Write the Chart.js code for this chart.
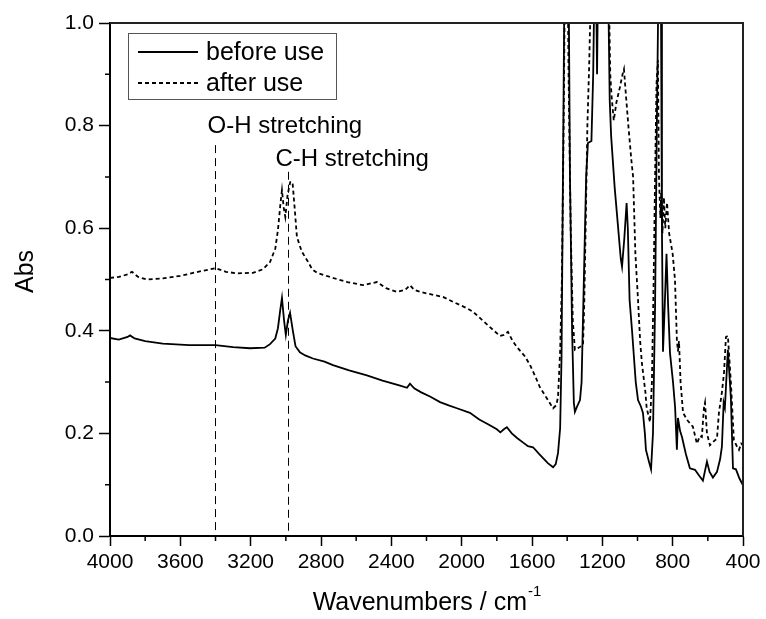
<!DOCTYPE html>
<html lang="en">
<head>
  <meta charset="UTF-8" />
  <title>IR spectra before / after use</title>
  <script src="https://cdn.jsdelivr.net/npm/chart.js"></script>
  <style>
    body { margin: 0; background: #fff; }
    canvas { display: block; }
  </style>
</head>
<body>
  <canvas id="irChart" width="766" height="619"></canvas>

  <script>
    // spectrum "before use" (wavenumber, absorbance)
    const wnBefore = [4000, 3950, 3900, 3886, 3860, 3800, 3700, 3550, 3400, 3300, 3204, 3120, 3090, 3060, 3045, 3032, 3022, 3010, 3000, 2988,
      2976, 2960, 2945, 2920, 2890, 2846, 2780, 2732, 2640, 2539, 2450, 2350, 2311, 2294, 2270, 2230, 2180, 2123, 2070, 2027,
      1953, 1900, 1850, 1800, 1780, 1760, 1743, 1715, 1685, 1650, 1623, 1594, 1560, 1537, 1510, 1480, 1465, 1452, 1440, 1432,
      1424, 1415, 1405, 1392, 1384, 1372, 1362, 1356, 1344, 1327, 1318, 1305, 1292, 1282, 1262, 1252, 1244, 1236, 1230, 1224,
      1210, 1180, 1166, 1158, 1150, 1130, 1110, 1095, 1088, 1075, 1062, 1055, 1045, 1031, 1010, 997, 980, 969, 958, 952,
      935, 923, 912, 900, 890, 880, 872, 866, 861, 855, 845, 835, 826, 815, 798, 786, 776, 770, 758, 747,
      725, 702, 673, 650, 628, 605, 590, 571, 548, 530, 520, 510, 503, 486, 469, 457, 440, 420, 400];
    const absBefore = [0.386, 0.383, 0.388, 0.391, 0.385, 0.380, 0.375, 0.372, 0.372, 0.368, 0.366, 0.367, 0.374, 0.385, 0.405, 0.44, 0.464, 0.42, 0.392, 0.42,
      0.435, 0.40, 0.37, 0.358, 0.352, 0.346, 0.340, 0.333, 0.323, 0.313, 0.303, 0.293, 0.289, 0.297, 0.288, 0.280, 0.272, 0.261, 0.254, 0.249,
      0.240, 0.227, 0.218, 0.208, 0.202, 0.208, 0.212, 0.200, 0.191, 0.182, 0.175, 0.173, 0.160, 0.152, 0.142, 0.134, 0.140, 0.162, 0.21, 0.35,
      0.70, 1.1, 1.2, 1.1, 0.70, 0.40, 0.26, 0.242, 0.252, 0.265, 0.30, 0.50, 0.70, 0.766, 0.770, 0.90, 1.1, 1.1, 0.90, 1.1,
      1.2, 1.2, 1.05, 0.85, 0.78, 0.68, 0.60, 0.54, 0.525, 0.58, 0.649, 0.60, 0.46, 0.40, 0.30, 0.265, 0.252, 0.240, 0.20, 0.168,
      0.145, 0.130, 0.20, 0.45, 0.80, 1.1, 1.2, 1.0, 0.60, 0.359, 0.45, 0.55, 0.45, 0.356, 0.30, 0.25, 0.168, 0.23, 0.205, 0.193,
      0.160, 0.132, 0.129, 0.118, 0.108, 0.145, 0.125, 0.114, 0.125, 0.150, 0.174, 0.26, 0.25, 0.363, 0.27, 0.132, 0.130, 0.112, 0.099];

    // spectrum "after use"
    const wnAfter = [4000, 3950, 3900, 3875, 3840, 3790, 3700, 3600, 3500, 3400, 3340, 3278, 3187, 3130, 3090, 3060, 3045, 3030, 3022, 3012,
      3003, 2990, 2975, 2962, 2950, 2937, 2910, 2880, 2850, 2823, 2732, 2650, 2561, 2482, 2430, 2368, 2320, 2294, 2270, 2237,
      2160, 2106, 2040, 1970, 1935, 1880, 1822, 1782, 1760, 1737, 1710, 1685, 1640, 1611, 1580, 1555, 1515, 1480, 1462, 1452,
      1440, 1430, 1420, 1410, 1400, 1392, 1380, 1368, 1356, 1330, 1310, 1303, 1295, 1285, 1275, 1266, 1255, 1200, 1165, 1155,
      1148, 1135, 1120, 1100, 1085, 1077, 1066, 1052, 1035, 1025, 1012, 997, 985, 975, 955, 948, 929, 918, 908, 900,
      892, 884, 878, 870, 865, 858, 850, 842, 832, 820, 800, 787, 776, 770, 764, 755, 741, 715, 685, 662,
      645, 634, 622, 616, 605, 588, 565, 548, 537, 520, 508, 497, 486, 469, 452, 435, 423, 410, 400];
    const absAfter = [0.503, 0.505, 0.510, 0.515, 0.505, 0.500, 0.502, 0.507, 0.515, 0.522, 0.515, 0.512, 0.513, 0.520, 0.534, 0.560, 0.596, 0.650, 0.674, 0.640,
      0.622, 0.665, 0.690, 0.690, 0.640, 0.583, 0.555, 0.538, 0.520, 0.513, 0.503, 0.495, 0.489, 0.495, 0.483, 0.476, 0.480, 0.489, 0.480, 0.476,
      0.470, 0.466, 0.455, 0.444, 0.437, 0.420, 0.402, 0.390, 0.392, 0.398, 0.380, 0.368, 0.350, 0.333, 0.310, 0.290, 0.268, 0.249, 0.255, 0.271,
      0.36, 0.50, 0.80, 1.2, 1.2, 0.90, 0.60, 0.42, 0.363, 0.368, 0.372, 0.45, 0.60, 0.80, 0.915, 1.05, 1.2, 1.2, 1.1, 0.90,
      0.86, 0.81, 0.845, 0.875, 0.90, 0.91, 0.86, 0.80, 0.733, 0.70, 0.55, 0.46, 0.38, 0.337, 0.28, 0.25, 0.222, 0.30, 0.50, 0.70,
      0.88, 0.928, 0.70, 0.62, 0.67, 0.59, 0.66, 0.60, 0.65, 0.59, 0.55, 0.50, 0.382, 0.36, 0.38, 0.30, 0.240, 0.225, 0.213, 0.180,
      0.195, 0.193, 0.25, 0.26, 0.20, 0.177, 0.185, 0.190, 0.240, 0.28, 0.318, 0.388, 0.390, 0.300, 0.187, 0.175, 0.168, 0.180, 0.177];

    // band markers: position, top of the dashed line (in Abs), label
    const bandWn = [3400, 2990];
    const bandTop = [0.762, 0.71];
    const bandLabels = ['O-H stretching', 'C-H stretching'];
    const bandLabelY = [0.798, 0.734];

    const xTicks = [4000, 3600, 3200, 2800, 2400, 2000, 1600, 1200, 800, 400];

    const FONT = '"Liberation Sans", Arial, sans-serif';

    function toPoints(xs, ys) {
      return xs.map((x, i) => ({ x: x, y: ys[i] }));
    }

    // frame, minor ticks, legend box, band markers and axis titles
    const extras = {
      id: 'extras',
      afterDraw(chart) {
        const ctx = chart.ctx;
        const xs = chart.scales.x, ys = chart.scales.y;
        const a = chart.chartArea;
        ctx.save();

        // top + right frame
        ctx.strokeStyle = '#222';
        ctx.lineWidth = 2;
        ctx.beginPath();
        ctx.moveTo(a.left, a.top);
        ctx.lineTo(a.right, a.top);
        ctx.lineTo(a.right, a.bottom);
        ctx.stroke();

        // minor ticks
        ctx.lineWidth = 1.5;
        ctx.strokeStyle = '#000';
        ctx.beginPath();
        for (let v = 600; v < 4000; v += 400) {
          const px = xs.getPixelForValue(v);
          ctx.moveTo(px, a.bottom);
          ctx.lineTo(px, a.bottom + 5);
        }
        for (let v = 0.1; v < 1; v += 0.2) {
          const py = ys.getPixelForValue(v);
          ctx.moveTo(a.left, py);
          ctx.lineTo(a.left - 5, py);
        }
        ctx.stroke();

        // legend
        ctx.lineWidth = 1;
        ctx.strokeStyle = '#555';
        ctx.strokeRect(128.5, 33.5, 208, 66);
        ctx.font = '25px ' + FONT;
        ctx.textBaseline = 'middle';
        ctx.textAlign = 'left';
        chart.data.datasets.forEach((ds, i) => {
          const y = 52 + i * 31;
          ctx.strokeStyle = '#000';
          ctx.lineWidth = ds.borderWidth;
          ctx.setLineDash(ds.borderDash || []);
          ctx.beginPath();
          ctx.moveTo(138, y);
          ctx.lineTo(198, y);
          ctx.stroke();
          ctx.setLineDash([]);
          ctx.fillStyle = '#000';
          ctx.fillText(ds.label, 206, y + 1);
        });

        // band markers
        ctx.lineWidth = 1;
        ctx.strokeStyle = '#000';
        ctx.font = '24px ' + FONT;
        bandWn.forEach((wn, i) => {
          const px = Math.round(xs.getPixelForValue(wn)) + 0.5;
          ctx.setLineDash([8, 5]);
          ctx.beginPath();
          ctx.moveTo(px, ys.getPixelForValue(bandTop[i]));
          ctx.lineTo(px, a.bottom);
          ctx.stroke();
          ctx.setLineDash([]);
          ctx.fillText(bandLabels[i], px - (i === 0 ? 8 : 13), ys.getPixelForValue(bandLabelY[i]));
        });

        // axis titles
        ctx.fillStyle = '#000';
        ctx.font = '25px ' + FONT;
        ctx.textAlign = 'left';
        const main = 'Wavenumbers / cm';
        const wMain = ctx.measureText(main).width;
        ctx.font = '15px ' + FONT;
        const sup = '-1';
        const wSup = ctx.measureText(sup).width;
        const cx = (a.left + a.right) / 2;
        const x0 = cx - (wMain + wSup) / 2;
        ctx.font = '25px ' + FONT;
        ctx.fillText(main, x0, 603);
        ctx.font = '15px ' + FONT;
        ctx.fillText(sup, x0 + wMain + 1, 592);

        ctx.font = '25px ' + FONT;
        ctx.translate(26, (a.top + a.bottom) / 2 - 8);
        ctx.rotate(-Math.PI / 2);
        ctx.textAlign = 'center';
        ctx.fillText('Abs', 0, 0);

        ctx.restore();
      }
    };

    const ctx = document.getElementById('irChart').getContext('2d');
    new Chart(ctx, {
      type: 'line',
      data: {
        datasets: [
          {
            label: 'before use',
            data: toPoints(wnBefore, absBefore),
            borderColor: '#000',
            borderWidth: 1.8,
            pointRadius: 0,
            tension: 0
          },
          {
            label: 'after use',
            data: toPoints(wnAfter, absAfter),
            borderColor: '#000',
            borderWidth: 1.8,
            borderDash: [4, 3],
            pointRadius: 0,
            tension: 0
          }
        ]
      },
      options: {
        responsive: false,
        animation: false,
        layout: { padding: { top: 23, right: 23, left: 0, bottom: 0 } },
        plugins: {
          legend: { display: false },
          tooltip: { enabled: false }
        },
        scales: {
          x: {
            type: 'linear',
            reverse: true,
            min: 400,
            max: 4000,
            afterFit: s => { s.height = 83; },
            afterBuildTicks: s => { s.ticks = xTicks.map(v => ({ value: v })); },
            ticks: {
              color: '#000',
              font: { family: FONT, size: 21 },
              padding: 4,
              maxRotation: 0,
              autoSkip: false,
              callback: v => String(v)
            },
            grid: { drawOnChartArea: false, drawTicks: true, tickLength: 10, tickColor: '#000', tickWidth: 1.5 },
            border: { display: true, color: '#000', width: 2 }
          },
          y: {
            min: 0,
            max: 1,
            afterFit: s => { s.width = 110; },
            ticks: {
              stepSize: 0.2,
              color: '#000',
              font: { family: FONT, size: 21 },
              padding: 5,
              callback: v => v.toFixed(1)
            },
            grid: { drawOnChartArea: false, drawTicks: true, tickLength: 11, tickColor: '#000', tickWidth: 1.5 },
            border: { display: true, color: '#000', width: 2 }
          }
        }
      },
      plugins: [extras]
    });
  </script>
</body>
</html>
